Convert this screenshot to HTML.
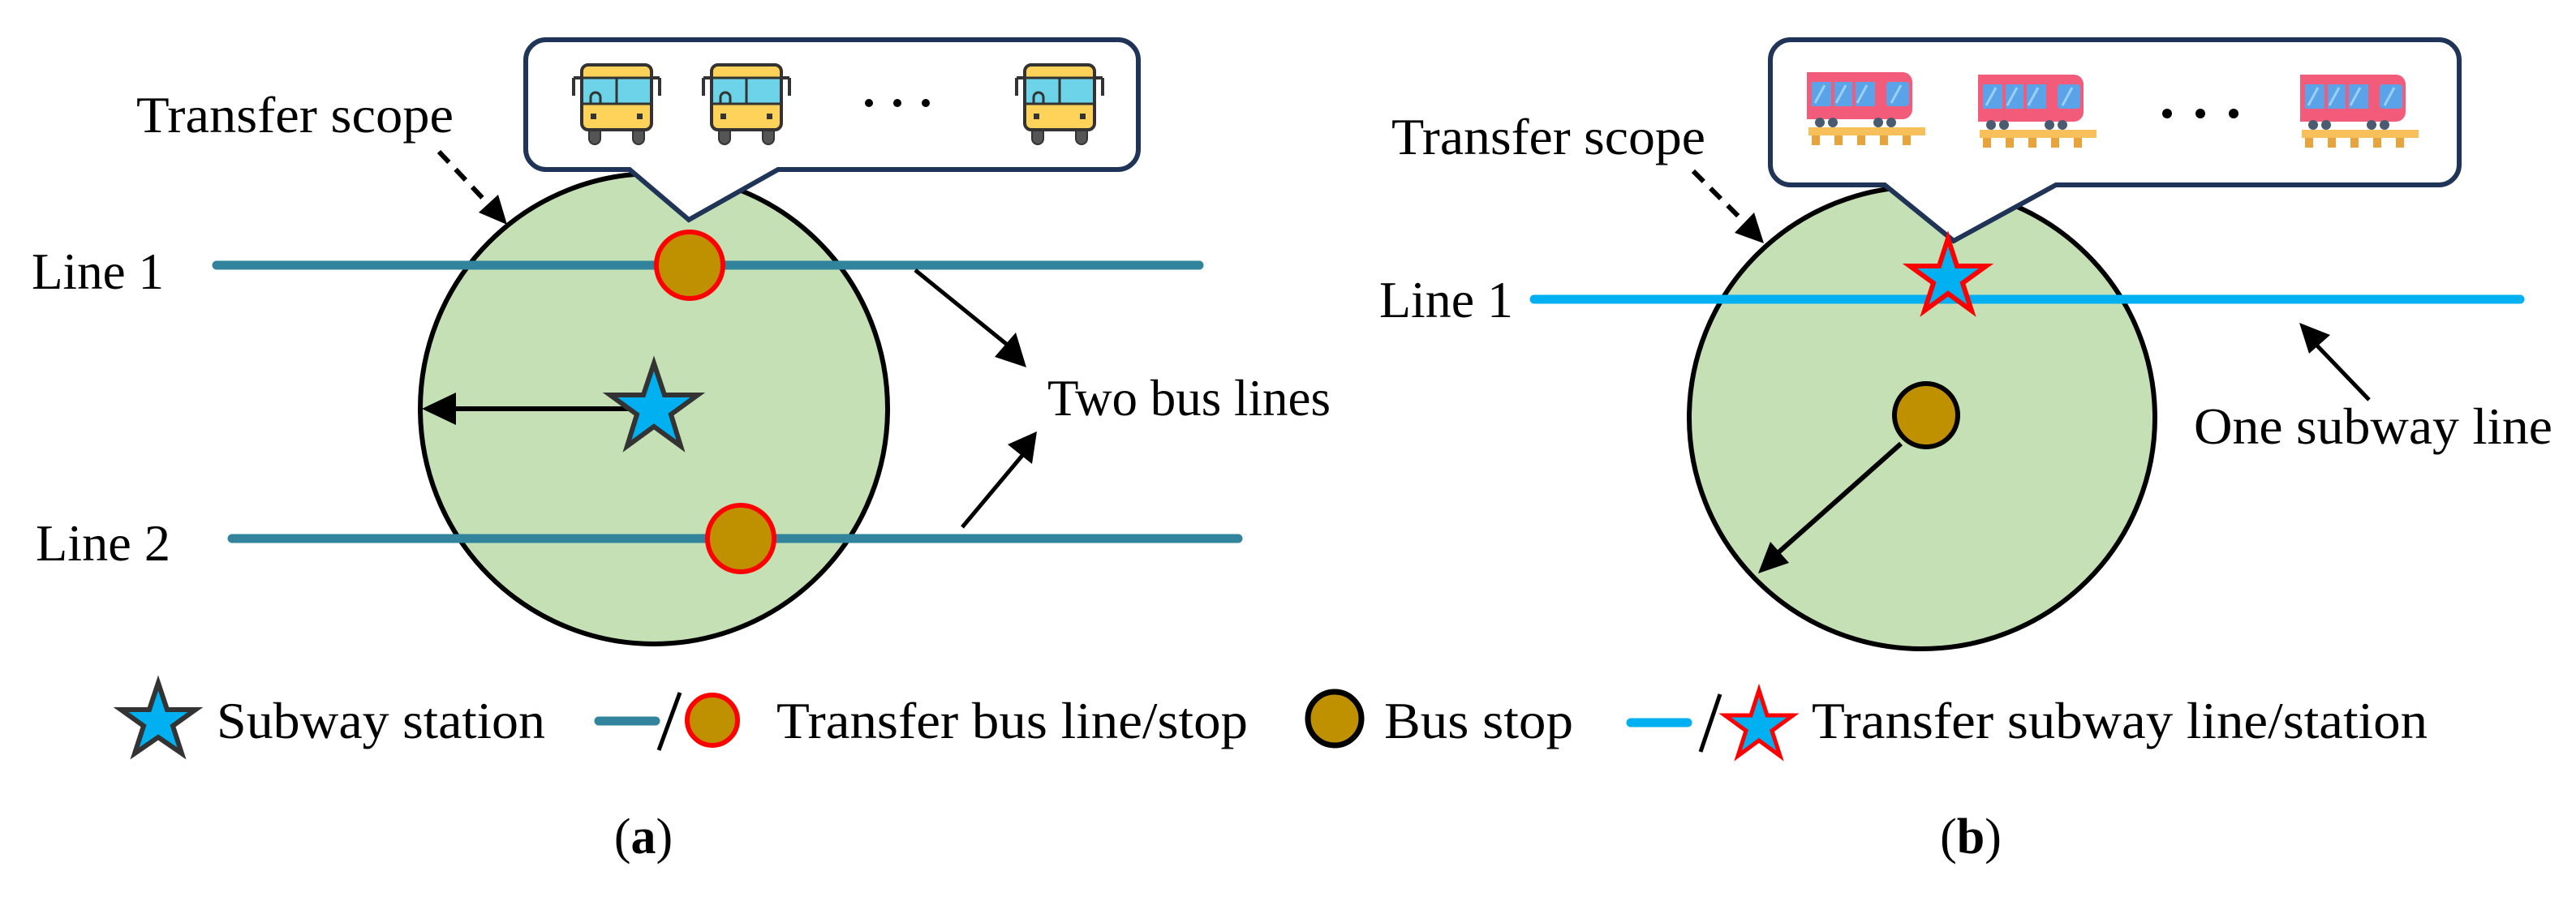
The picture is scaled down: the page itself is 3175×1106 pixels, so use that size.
<!DOCTYPE html>
<html><head><meta charset="utf-8"><style>html,body{margin:0;padding:0;background:#fff}svg{display:block}</style></head>
<body>
<svg width="3175" height="1106" viewBox="0 0 3175 1106" xmlns="http://www.w3.org/2000/svg" font-family="'Liberation Serif', serif" font-size="64">
<defs>
<marker id="ah" markerWidth="10" markerHeight="10" refX="8" refY="5" orient="auto" markerUnits="userSpaceOnUse" viewBox="0 0 10 10">
</marker>
<g id="bus">
 <line x1="3" y1="20" x2="3" y2="42" stroke="#333" stroke-width="4"/>
 <line x1="3" y1="20" x2="12" y2="20" stroke="#333" stroke-width="4"/>
 <line x1="109" y1="20" x2="109" y2="42" stroke="#333" stroke-width="4"/>
 <line x1="100" y1="20" x2="109" y2="20" stroke="#333" stroke-width="4"/>
 <rect x="22" y="78" width="14" height="24" rx="7" fill="#555" stroke="#333" stroke-width="2"/>
 <rect x="76" y="78" width="14" height="24" rx="7" fill="#555" stroke="#333" stroke-width="2"/>
 <rect x="13" y="4" width="86" height="80" rx="8" fill="#FFD25A" stroke="#333" stroke-width="4"/>
 <rect x="15" y="20" width="82" height="32" fill="#6CD3E8"/>
 <line x1="13" y1="20" x2="99" y2="20" stroke="#333" stroke-width="3"/>
 <line x1="13" y1="52" x2="99" y2="52" stroke="#333" stroke-width="3"/>
 <line x1="56" y1="20" x2="56" y2="52" stroke="#333" stroke-width="3"/>
 <path d="M24 52 v-8 a6 6 0 0 1 12 0 v8" fill="none" stroke="#333" stroke-width="3"/>
 <rect x="24" y="64" width="7" height="7" fill="#333"/>
 <rect x="81" y="64" width="7" height="7" fill="#333"/>
</g>
<g id="train">
 <path d="M0 0 H118 a12 12 0 0 1 12 12 V46 a12 12 0 0 1 -12 12 H0 Z" fill="#F25C7A"/>
 <rect x="6" y="12" width="78" height="30" fill="#5BA3E8"/>
 <rect x="98" y="12" width="28" height="30" rx="4" fill="#5BA3E8"/>
 <g stroke="#F25C7A" stroke-width="4"><line x1="32" y1="12" x2="32" y2="42"/><line x1="58" y1="12" x2="58" y2="42"/></g>
 <g stroke="#9BD0F5" stroke-width="3"><line x1="10" y1="38" x2="22" y2="16"/><line x1="36" y1="38" x2="48" y2="16"/><line x1="62" y1="38" x2="74" y2="16"/><line x1="104" y1="38" x2="116" y2="16"/></g>
 <g fill="#4A5A70"><circle cx="16" cy="62" r="6"/><circle cx="32" cy="62" r="6"/><circle cx="88" cy="62" r="6"/><circle cx="104" cy="62" r="6"/></g>
 <rect x="2" y="68" width="144" height="10" fill="#F7C05A"/>
 <g fill="#E8A43C"><rect x="6" y="78" width="10" height="12"/><rect x="34" y="78" width="10" height="12"/><rect x="62" y="78" width="10" height="12"/><rect x="90" y="78" width="10" height="12"/><rect x="118" y="78" width="10" height="12"/></g>
</g>
</defs>

<!-- ===== (a) ===== -->
<ellipse cx="806" cy="504" rx="288" ry="290" fill="#C5E0B4" stroke="#000" stroke-width="6"/>
<line x1="267" y1="327" x2="1478" y2="327" stroke="#31849B" stroke-width="11" stroke-linecap="round"/>
<line x1="286" y1="664" x2="1526" y2="664" stroke="#31849B" stroke-width="11" stroke-linecap="round"/>
<circle cx="850" cy="327" r="41" fill="#BF9000" stroke="#FF0000" stroke-width="6"/>
<circle cx="913" cy="664" r="41" fill="#BF9000" stroke="#FF0000" stroke-width="6"/>
<!-- radius arrow -->
<line x1="776" y1="504" x2="550" y2="504" stroke="#000" stroke-width="6"/>
<polygon points="520,504 562,484 562,524" fill="#000"/>
<polygon points="806,448 819,487 860,487 827,511 839,550 806,526 773,550 785,511 752,487 793,487" fill="#00B0F0" stroke="#333" stroke-width="6" stroke-linejoin="miter"/>
<!-- callout a -->
<path d="M673 49 H1378 a25 25 0 0 1 25 25 V184 a25 25 0 0 1 -25 25 H959 L849 271 L776 209 H673 a25 25 0 0 1 -25 -25 V74 a25 25 0 0 1 25 -25 Z" fill="#fff" stroke="#1F3457" stroke-width="6"/>
<use href="#bus" x="704" y="76"/>
<use href="#bus" x="864" y="76"/>
<use href="#bus" x="1250" y="76"/>
<g fill="#000"><circle cx="1071" cy="127" r="5"/><circle cx="1106" cy="127" r="5"/><circle cx="1141" cy="127" r="5"/></g>
<!-- labels a -->
<text x="168" y="163" textLength="391" lengthAdjust="spacingAndGlyphs">Transfer scope</text>
<line x1="541" y1="187" x2="604" y2="254" stroke="#000" stroke-width="6" stroke-dasharray="18,12"/>
<polygon points="625,277 590,262 614,240" fill="#000"/>
<text x="39" y="356" textLength="163" lengthAdjust="spacingAndGlyphs">Line 1</text>
<text x="44" y="691" textLength="166" lengthAdjust="spacingAndGlyphs">Line 2</text>
<line x1="1128" y1="333" x2="1250" y2="432" stroke="#000" stroke-width="5"/>
<polygon points="1265,453 1226,440 1252,410" fill="#000"/>
<line x1="1186" y1="650" x2="1263" y2="558" stroke="#000" stroke-width="5"/>
<polygon points="1278,532 1272,572 1242,548" fill="#000"/>
<text x="1291" y="512" textLength="349" lengthAdjust="spacingAndGlyphs">Two bus lines</text>

<!-- ===== (b) ===== -->
<ellipse cx="2369" cy="515" rx="287" ry="285" fill="#C5E0B4" stroke="#000" stroke-width="6"/>
<line x1="1891" y1="369" x2="3106" y2="369" stroke="#00B0F0" stroke-width="11" stroke-linecap="round"/>
<line x1="2343" y1="547" x2="2182" y2="690" stroke="#000" stroke-width="6"/>
<polygon points="2167,707 2182,668 2205,694" fill="#000"/>
<circle cx="2374" cy="512" r="39" fill="#BF9000" stroke="#000" stroke-width="6"/>
<!-- callout b -->
<path d="M2207 49 H3006 a25 25 0 0 1 25 25 V203 a25 25 0 0 1 -25 25 H2534 L2408 297 L2323 228 H2207 a25 25 0 0 1 -25 -25 V74 a25 25 0 0 1 25 -25 Z" fill="#fff" stroke="#1F3457" stroke-width="6"/>
<polygon points="2401,294 2412,328 2448,328 2419,349 2430,383 2401,362 2372,383 2383,349 2354,328 2390,328" fill="#00B0F0" stroke="#FF0000" stroke-width="6"/>
<use href="#train" x="2227" y="89"/>
<use href="#train" x="2438" y="92"/>
<use href="#train" x="2835" y="92"/>
<g fill="#000"><circle cx="2671" cy="140" r="6"/><circle cx="2712" cy="140" r="6"/><circle cx="2753" cy="140" r="6"/></g>
<text x="1715" y="190" textLength="387" lengthAdjust="spacingAndGlyphs">Transfer scope</text>
<line x1="2087" y1="211" x2="2154" y2="278" stroke="#000" stroke-width="6" stroke-dasharray="18,12"/>
<polygon points="2174,300 2138,287 2162,262" fill="#000"/>
<text x="1700" y="391" textLength="165" lengthAdjust="spacingAndGlyphs">Line 1</text>
<line x1="2920" y1="493" x2="2850" y2="420" stroke="#000" stroke-width="5"/>
<polygon points="2834,398 2872,413 2846,436" fill="#000"/>
<text x="2704" y="547" textLength="442" lengthAdjust="spacingAndGlyphs">One subway line</text>

<!-- ===== legend ===== -->
<polygon points="195,842 206,875 241,875 213,895 224,929 195,909 166,929 177,895 149,875 184,875" fill="#00B0F0" stroke="#333" stroke-width="6"/>
<text x="267" y="910" textLength="405" lengthAdjust="spacingAndGlyphs">Subway station</text>
<line x1="738" y1="889" x2="808" y2="889" stroke="#31849B" stroke-width="11" stroke-linecap="round"/>
<line x1="838" y1="854" x2="812" y2="925" stroke="#000" stroke-width="5"/>
<circle cx="878" cy="888" r="31" fill="#BF9000" stroke="#FF0000" stroke-width="6"/>
<text x="957" y="910" textLength="581" lengthAdjust="spacingAndGlyphs">Transfer bus line/stop</text>
<circle cx="1645" cy="886" r="33" fill="#BF9000" stroke="#000" stroke-width="7"/>
<text x="1706" y="910" textLength="233" lengthAdjust="spacingAndGlyphs">Bus stop</text>
<line x1="2010" y1="891" x2="2080" y2="891" stroke="#00B0F0" stroke-width="11" stroke-linecap="round"/>
<line x1="2120" y1="856" x2="2096" y2="927" stroke="#000" stroke-width="5"/>
<polygon points="2168,851 2178,882 2210,882 2184,901 2194,932 2168,913 2142,932 2152,901 2126,882 2158,882" fill="#00B0F0" stroke="#FF0000" stroke-width="5"/>
<text x="2233" y="910" textLength="759" lengthAdjust="spacingAndGlyphs">Transfer subway line/station</text>

<text x="793" y="1052" text-anchor="middle" font-size="62">(<tspan font-weight="bold">a</tspan>)</text>
<text x="2429" y="1052" text-anchor="middle" font-size="62">(<tspan font-weight="bold">b</tspan>)</text>
</svg>
</body></html>
